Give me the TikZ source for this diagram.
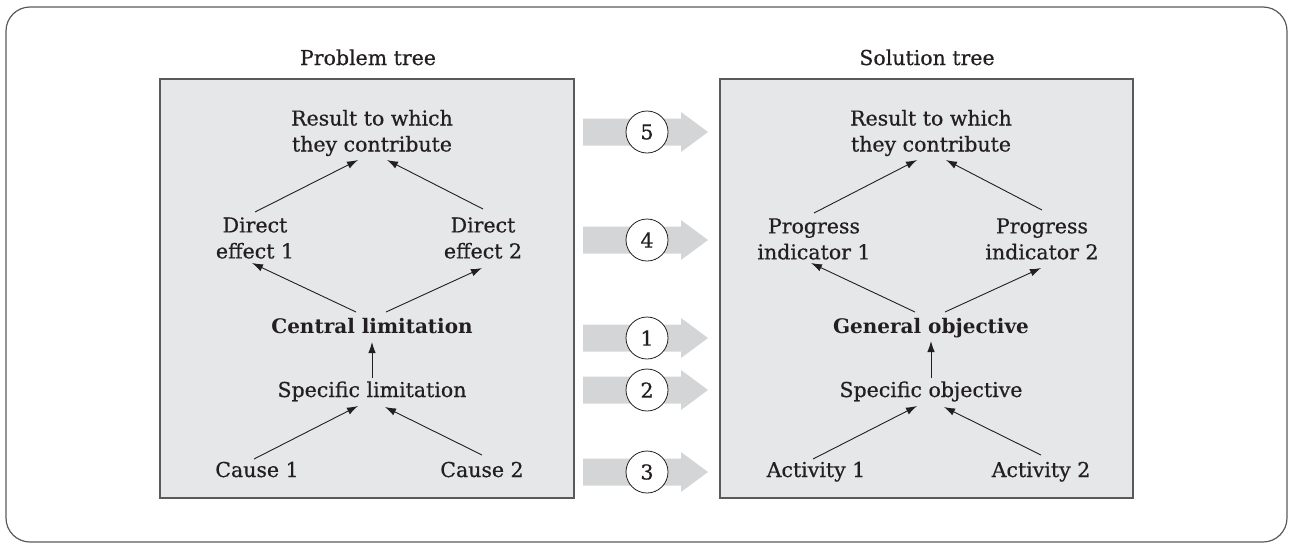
\documentclass[tikz,border=0pt]{standalone}
\usepackage{fontspec}
\setmainfont{DejaVu Serif}[UprightFeatures={FakeBold=0.6}]
\usetikzlibrary{arrows.meta}
\definecolor{boxfill}{HTML}{E6E7E8}
\definecolor{bandfill}{HTML}{D4D5D6}
\definecolor{framecol}{HTML}{5A5A5C}
\definecolor{ink}{HTML}{231F20}
\begin{document}
\begin{tikzpicture}[x=1pt,y=-1pt,
  lbl/.style={font=\fontsize{20.5}{26}\selectfont, text=ink, inner sep=0pt, align=center},
  blbl/.style={lbl, font=\fontsize{20}{26}\selectfont\bfseries},
  tarrow/.style={draw=ink, line width=0.9pt, -{Latex[length=11pt,width=7.5pt]}},
  treebox/.style={draw=framecol, fill=boxfill, line width=1.2pt},
  band/.style={fill=bandfill, draw=none},
  num/.style={circle, draw=ink, fill=white, line width=0.8pt, minimum size=42pt, inner sep=0pt, text=ink, font=\fontsize{20.5}{24}\selectfont}
]
\useasboundingbox (0,0) rectangle (1289,544);
% outer frame
\draw[framecol, line width=1.2pt, rounded corners=24pt] (6,7) rectangle (1287,542);

% boxes
\draw[treebox] (160,79) rectangle (574,498);
\draw[treebox] (720,79) rectangle (1133,498);

% titles
\node[lbl, anchor=base] (ptitle) at (368,65) {Problem tree};
\node[lbl, anchor=base] (stitle) at (927,65) {Solution tree};

% big arrows with numbers
\foreach \yy/\nn in {132/5, 240/4, 338/1, 390/2, 472/3}{
  \fill[band] (583,\yy-13.5) -- (681,\yy-13.5) -- (681,\yy-20) -- (708,\yy) -- (681,\yy+20) -- (681,\yy+13.5) -- (583,\yy+13.5) -- cycle;
  \node[num] (n\nn) at (647,\yy) {\nn};
}

% ---------- Problem tree ----------
\node[lbl] (res) at (372,133) {Result to which\\they contribute};
\node[lbl] (de1) at (255,238) {Direct\\effect 1};
\node[lbl] (de2) at (483,238) {Direct\\effect 2};
\node[blbl, anchor=base] (cen) at (372,333) {Central limitation};
\node[lbl, anchor=base] (spec) at (372,397) {Specific limitation};
\node[lbl, anchor=base] (c1) at (257,477) {Cause 1};
\node[lbl, anchor=base] (c2) at (482,477) {Cause 2};

\draw[tarrow] ([shift={(0,-26)}]de1.center) -- ([shift={(-14,27)}]res.center);
\draw[tarrow] ([shift={(0,-29)}]de2.center) -- ([shift={(15,27)}]res.center);
\draw[tarrow] ([shift={(-16,-21)}]cen.base) -- ([shift={(-3,25)}]de1.center);
\draw[tarrow] ([shift={(14,-21)}]cen.base) -- ([shift={(-1,30)}]de2.center);
\draw[tarrow] ([shift={(0,-19)}]spec.base) -- ([shift={(0,9)}]cen.base);
\draw[tarrow] ([shift={(-3,-18)}]c1.base) -- ([shift={(-14,9)}]spec.base);
\draw[tarrow] ([shift={(0,-22)}]c2.base) -- ([shift={(13,10)}]spec.base);

% ---------- Solution tree ----------
\node[lbl] (sres) at (931,133) {Result to which\\they contribute};
\node[lbl] (pi1) at (814,239) {Progress\\indicator 1};
\node[lbl] (pi2) at (1042,239) {Progress\\indicator 2};
\node[blbl, anchor=base] (go) at (931,333) {General objective};
\node[lbl, anchor=base] (so) at (931,397) {Specific objective};
\node[lbl, anchor=base] (a1) at (816,477) {Activity 1};
\node[lbl, anchor=base] (a2) at (1041,477) {Activity 2};

\draw[tarrow] ([shift={(0,-26)}]pi1.center) -- ([shift={(-14,27)}]sres.center);
\draw[tarrow] ([shift={(0,-29)}]pi2.center) -- ([shift={(15,27)}]sres.center);
\draw[tarrow] ([shift={(-16,-21)}]go.base) -- ([shift={(-3,24)}]pi1.center);
\draw[tarrow] ([shift={(14,-21)}]go.base) -- ([shift={(-1,29)}]pi2.center);
\draw[tarrow] ([shift={(0,-19)}]so.base) -- ([shift={(0,8)}]go.base);
\draw[tarrow] ([shift={(-3,-18)}]a1.base) -- ([shift={(-14,9)}]so.base);
\draw[tarrow] ([shift={(0,-22)}]a2.base) -- ([shift={(13,10)}]so.base);
\end{tikzpicture}
\end{document}
